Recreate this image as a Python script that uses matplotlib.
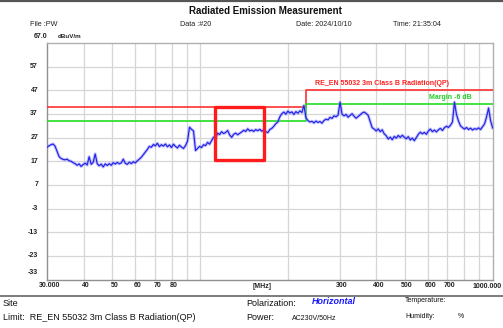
import numpy as np
import matplotlib
matplotlib.use("Agg")
import matplotlib.pyplot as plt
from matplotlib.patches import Rectangle
from matplotlib.lines import Line2D

plt.rcParams['font.family'] = ['Liberation Sans', 'DejaVu Sans']

# ---- measurement data -------------------------------------------------
f_start_mhz, f_stop_mhz = 30.0, 1000.0
level_dbuv = [
    22.9, 23.5, 24.0, 24.3, 23.4, 21.2, 19.0, 18.2, 17.8, 17.6,
    17.9, 17.2, 17.0, 16.4, 16.0, 15.3, 15.9, 14.8, 15.6, 16.2,
    15.4, 18.9, 15.7, 16.5, 20.1, 16.0, 15.1, 15.8, 14.6, 15.9,
    15.2, 16.0, 15.3, 16.4, 15.8, 16.5, 15.9, 16.3, 17.9, 16.1,
    15.7, 16.6, 16.0, 16.8, 16.3, 17.2, 17.9, 18.7, 19.8, 20.9,
    22.0, 23.3, 22.9, 24.1, 23.5, 24.6, 23.2, 24.0, 23.4, 24.3,
    23.1, 23.9, 22.8, 24.2, 23.3, 22.6, 23.8, 23.0, 22.4, 23.6,
    25.5, 31.4, 30.5, 29.8, 21.5, 22.4, 23.3, 22.8, 24.0, 23.6,
    25.0, 24.2, 25.7, 27.2, 26.5, 28.9, 28.3, 29.5, 28.7, 29.2,
    30.0, 28.1, 27.1, 28.4, 28.9, 28.2, 28.8, 29.4, 30.1, 29.6,
    30.7, 29.8, 30.2, 29.6, 30.4, 29.9, 30.5, 29.7, 30.3, 29.5,
    29.1, 30.4, 30.9, 31.8, 32.9, 33.6, 35.8, 37.1, 37.8, 36.9,
    38.2, 37.4, 37.9, 36.8, 38.0, 37.3, 38.3, 37.6, 40.6, 35.4,
    34.2, 33.6, 33.9, 33.2, 34.0, 33.4, 33.8, 33.1, 34.2, 34.8,
    34.5, 35.6, 35.1, 36.2, 35.8, 36.5, 42.0, 36.9, 36.2, 36.8,
    35.6, 36.4, 37.1, 36.0, 35.2, 35.9, 36.6, 37.4, 37.8, 37.2,
    36.4, 33.8, 31.2, 30.6, 29.8, 30.7, 29.5, 30.3, 28.6, 27.8,
    26.4, 27.2, 26.1, 27.5, 26.8, 27.9, 27.1, 28.0, 27.2, 26.5,
    27.4, 26.0, 26.8, 25.7, 27.0, 28.4, 29.3, 28.6, 29.2, 28.4,
    29.8, 30.6, 29.5, 30.2, 29.4, 30.3, 30.9, 30.0, 31.2, 31.8,
    31.3, 32.2, 33.6, 42.0, 36.8, 34.0, 32.0, 31.2, 30.6, 31.3,
    30.4, 31.0, 30.2, 30.8, 30.5, 31.1, 30.4, 31.6, 32.8, 35.8,
    39.5, 34.2, 31.1,
]
# log-spaced receiver sweep
sweep_mhz = np.geomspace(f_start_mhz, f_stop_mhz, len(level_dbuv))

# EN 55032 class B, 3 m, quasi-peak limit and the -6 dB margin line
limit_freq_mhz = [30.0, 230.0, 230.0, 1000.0]
limit_dbuv = [40.0, 40.0, 47.0, 47.0]
margin_db = 6.0

# highlighted region (MHz, dBuV/m)
focus_freq = (112.5, 165.0)
focus_level = (17.6, 39.8)

# axis scale
y_min, y_max = -33.0, 67.0
y_ticks = [-33, -23, -13, -3, 7, 17, 27, 37, 47, 57]
x_grid = [40, 50, 60, 70, 80, 90, 100, 200, 300, 400, 500, 600, 700, 800, 900]
x_tick_vals = [30, 40, 50, 60, 70, 80, 300, 400, 500, 600, 700]
x_tick_txt = ['30.000', '40', '50', '60', '70', '80', '300', '400', '500',
              '600', '700']
x_end_txt = '1000.000'

# ---- figure -------------------------------------------------------------
W, H = 503, 328
fig = plt.figure(figsize=(W / 100, H / 100), dpi=100)
fig.patch.set_facecolor('white')


def fp(x, y):
    return x / W, 1 - y / H


ax_l, ax_r, ax_t, ax_b = 47, 492.6, 43, 279.5
ax = fig.add_axes([ax_l / W, 1 - ax_b / H, (ax_r - ax_l) / W, (ax_b - ax_t) / H])
ax.set_xscale('log')
ax.set_xlim(f_start_mhz, f_stop_mhz)
ax.set_ylim(y_min, y_max)

for g in x_grid:
    ax.axvline(g, color='#d6d6d6', lw=0.9, zorder=1)
for g in y_ticks[1:]:
    ax.axhline(g, color='#d6d6d6', lw=0.9, zorder=1)

ax.set_xticks([])
ax.set_yticks([])
ax.minorticks_off()
for s in ax.spines.values():
    s.set_color('#b0b0b0')
    s.set_linewidth(1.0)
ax.spines['left'].set_color('#909090')
ax.spines['bottom'].set_color('#909090')

# limit and margin lines
ax.plot(limit_freq_mhz, limit_dbuv, color='#ff3030', lw=1.2, zorder=3)
ax.plot(limit_freq_mhz, [v - margin_db for v in limit_dbuv],
        color='#22dd22', lw=1.2, zorder=3)

# measured trace
ax.plot(sweep_mhz, level_dbuv, color='#8a8aff', lw=2.3, alpha=0.5, zorder=4)
ax.plot(sweep_mhz, level_dbuv, color='#2222e6', lw=0.85, zorder=5)

ax.add_patch(Rectangle((focus_freq[0], focus_level[0]),
                       focus_freq[1] - focus_freq[0],
                       focus_level[1] - focus_level[0],
                       fill=False, edgecolor='#ff1c1c', lw=2.4,
                       joinstyle='round', zorder=6))

ax.text(247, limit_dbuv[-1] + 3.0, 'RE_EN 55032 3m Class B Radiation(QP)',
        color='#ff2020', fontsize=5, fontweight='bold', va='center', ha='left',
        zorder=7)
ax.text(606, limit_dbuv[-1] - margin_db + 3.0, 'Margin -6 dB',
        color='#22cc22', fontsize=5, fontweight='bold', va='center', ha='left',
        zorder=7)

# y tick labels
for v in y_ticks:
    y_pos = v if v != y_ticks[0] else v + 2.8
    ax.text(-0.02, y_pos, str(v), transform=ax.get_yaxis_transform(),
            ha='right', va='center', fontsize=5, fontweight='bold', color='#222222')

# x tick labels
for v, t in zip(x_tick_vals, x_tick_txt):
    ax.text(v * 1.02, -0.012, t, transform=ax.get_xaxis_transform(),
            ha='center', va='top', fontsize=5, fontweight='bold', color='#222222')
fig.text(*fp(502, 286), x_end_txt, ha='right', va='center', fontsize=5,
         fontweight='bold', color='#222222')
fig.text(*fp(262, 286), '[MHz]', ha='center', va='center', fontsize=5,
         fontweight='bold', color='#222222')

# header
fig.text(*fp(265, 11), 'Radiated Emission Measurement', ha='center', va='center',
         fontsize=7, fontweight='bold', color='#111111')
hdr = dict(va='center', ha='left', fontsize=5.2, color='#222222')
fig.text(*fp(30, 24), 'File :PW', **hdr)
fig.text(*fp(180, 24), 'Data :#20', **hdr)
fig.text(*fp(296, 24), 'Date: 2024/10/10', **hdr)
fig.text(*fp(393, 24), 'Time: 21:35:04', **hdr)
fig.text(*fp(34, 36), '67.0', va='center', ha='left', fontsize=5,
         fontweight='bold', color='#222222')
fig.text(*fp(58, 36), 'dBuV/m', va='center', ha='left', fontsize=4.5,
         fontweight='bold', color='#222222')

# footer
ftr = dict(va='center', ha='left', fontsize=6.5, color='#111111')
fig.text(*fp(3, 303), 'Site', **ftr)
fig.text(*fp(3, 318), 'Limit:  RE_EN 55032 3m Class B Radiation(QP)', **ftr)
fig.text(*fp(246, 303), 'Polarization:', **ftr)
fig.text(*fp(246, 318), 'Power:', **ftr)
fig.text(*fp(312, 302), 'Horizontal', va='center', ha='left', fontsize=6.5,
         fontweight='bold', style='italic', color='#1a1aff')
fig.text(*fp(292, 318), 'AC230V/50Hz', va='center', ha='left', fontsize=5,
         color='#111111')
sml = dict(va='center', ha='left', fontsize=5, color='#111111')
fig.text(*fp(405, 301), 'Temperature:', **sml)
fig.text(*fp(405, 317), 'Humidity:', **sml)
fig.text(*fp(458, 317), '%', **sml)

# page rules
fig.add_artist(Line2D([0, 1], [1 - 0.8 / H, 1 - 0.8 / H], transform=fig.transFigure,
                      color='#555555', lw=1.6))
fig.add_artist(Line2D([0, 1], [1 - 296 / H, 1 - 296 / H], transform=fig.transFigure,
                      color='#666666', lw=1.2))

fig.savefig('out.png', dpi=100, facecolor='white')
